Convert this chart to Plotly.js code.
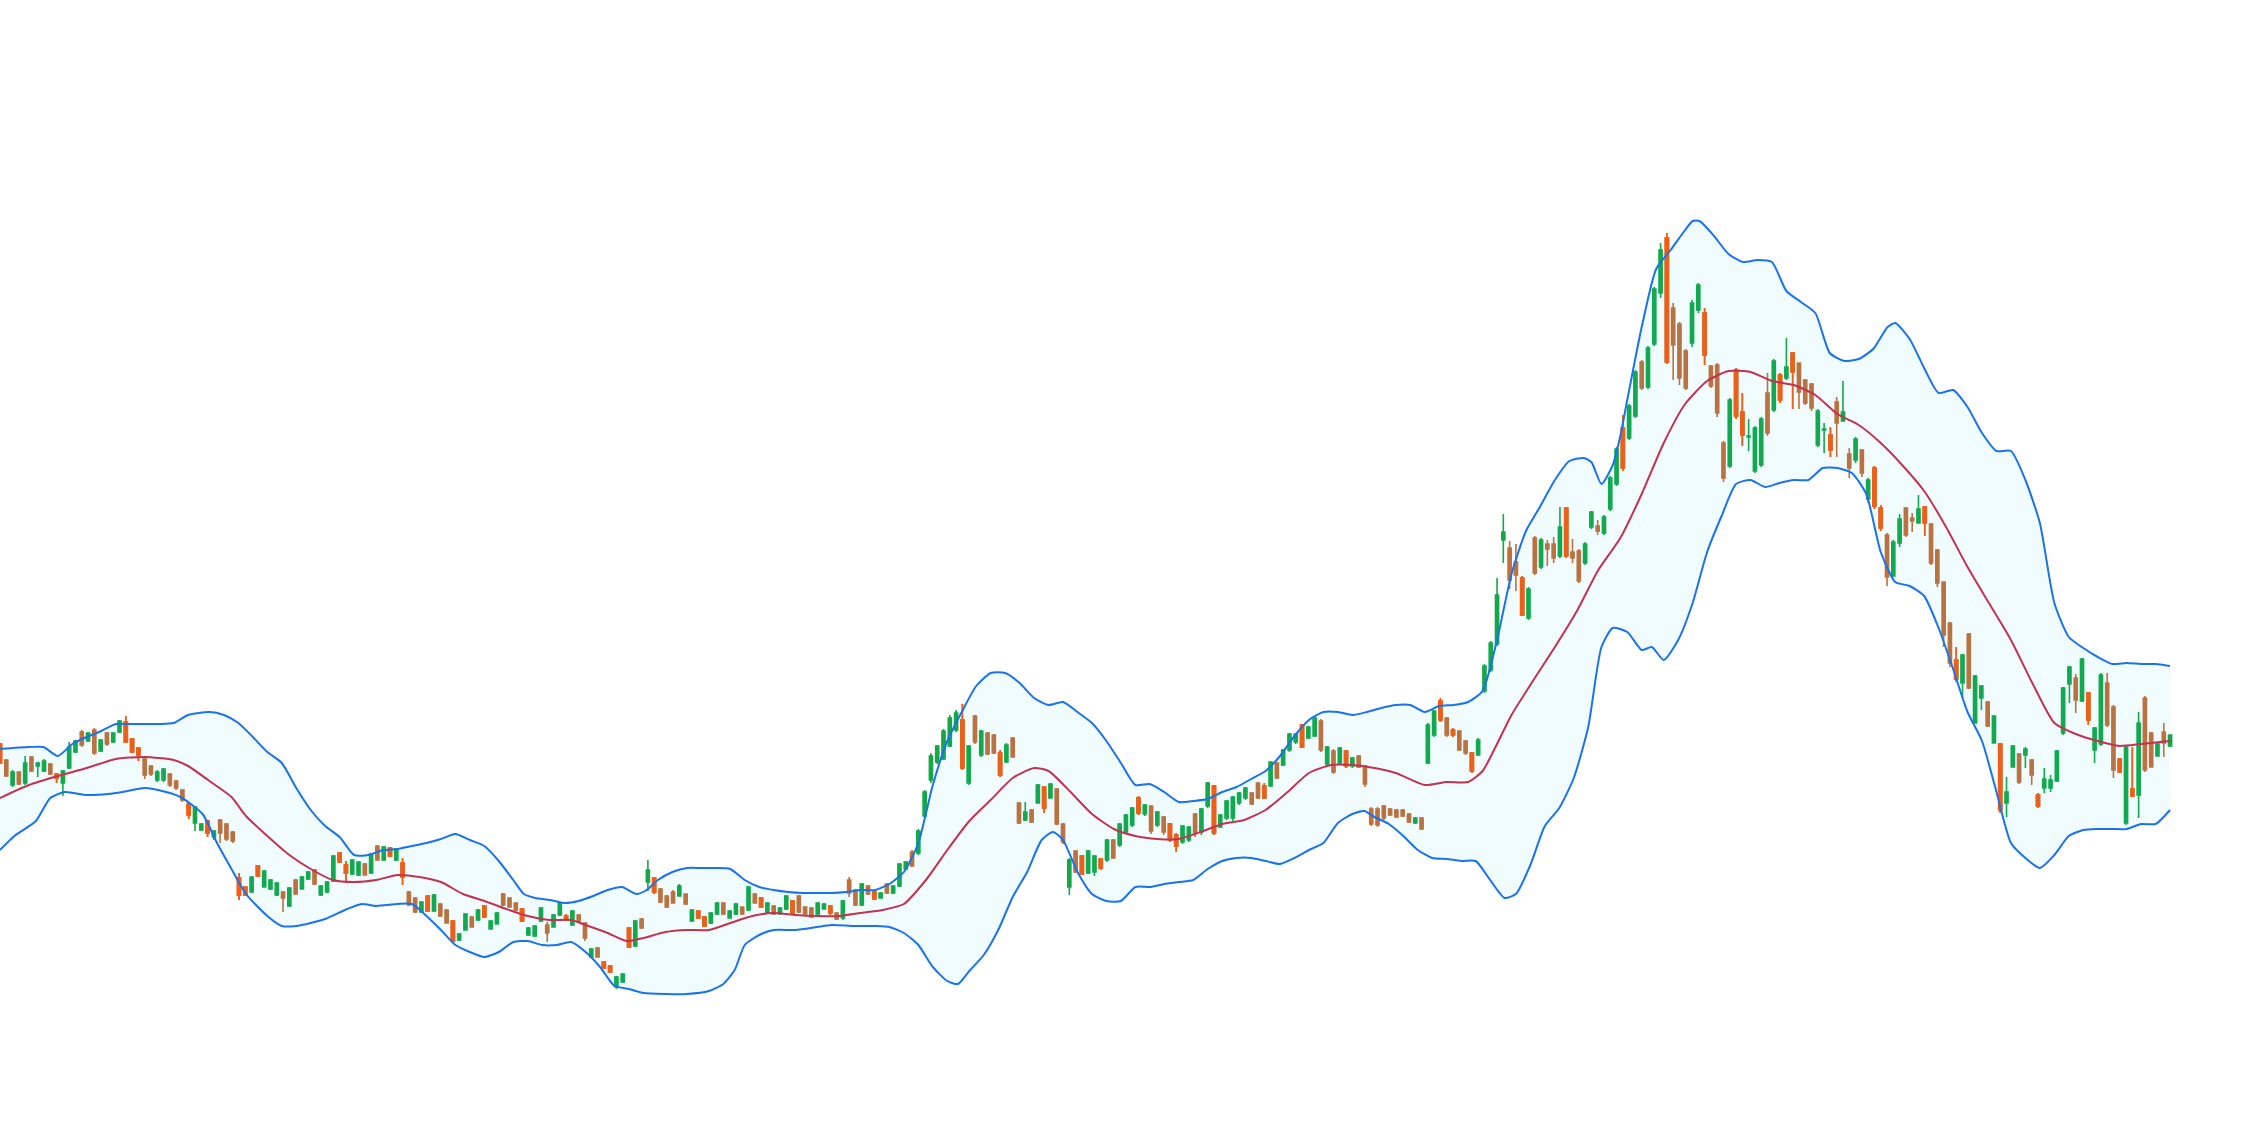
<!DOCTYPE html>
<html><head><meta charset="utf-8">
<script src="https://cdn.plot.ly/plotly-3.0.1.min.js"></script>
<style>html,body{margin:0;padding:0;background:#fff}#chart{width:2268px;height:1148px}</style>
</head><body><div id="chart"></div>
<script>
const openP = [324,308,283,296,285,311,302,297,304,294,
285,300,316,336,327,338,317,335,326,336,
346,329,320,309,302,288,288,294,287,278,
264,245,238,247,231,248,244,236,190,181,
176,202,181,179,173,176,162,188,179,189,
198,173,176,187,215,203,194,193,204,195,
222,208,220,208,205,176,170,156,172,157,
164,158,147,128,138,151,148,162,139,144,
174,170,165,159,133,132,147,143,141,153,
152,143,153,145,111,120,106,102,81,86,
140,122,149,186,190,179,172,176,172,174,
147,157,151,145,154,165,150,154,161,158,
174,170,155,162,154,159,167,172,161,160,
154,159,162,155,150,188,178,163,182,177,
170,184,175,182,199,216,215,252,288,306,
309,322,338,348,285,352,313,335,333,315,
306,330,265,248,258,265,281,270,279,244,
181,217,212,195,196,209,208,228,223,236,
243,270,254,262,243,251,244,233,226,228,
254,236,262,282,241,250,250,265,270,275,
285,282,282,305,303,318,326,343,330,332,
347,304,317,305,317,302,312,302,259,259,
262,259,258,258,254,245,250,305,333,367,
350,338,337,327,315,313,377,398,424,528,
520,506,490,450,530,501,524,524,512,560,
516,517,505,541,542,535,559,584,640,630,
652,706,681,724,775,830,760,744,717,725,
758,755,702,703,625,602,698,656,631,597,
603,675,658,693,690,715,705,688,684,623,
638,633,666,647,614,608,618,569,600,560,
533,492,525,560,550,545,561,544,518,486,
445,408,385,434,345,370,366,325,324,265,
301,314,313,308,273,280,280,287,335,384,
390,367,375,318,324,385,361,309,245,279,
273,370,335,312,336,322];
const highP = [325,309,298,296,312,312,306,309,305,295,
298,326,328,338,336,340,329,336,336,348,
352,330,321,310,303,298,300,295,288,279,
265,262,245,248,238,249,245,237,195,181,
191,203,198,189,186,177,181,189,192,197,
199,183,187,213,216,207,209,207,205,215,
223,222,221,220,210,177,171,167,173,174,
165,159,148,135,155,152,159,163,148,156,
175,171,165,160,141,143,161,146,154,166,
154,158,154,146,120,121,107,103,92,95,
141,148,150,208,191,180,173,178,184,174,
159,157,152,156,166,166,158,165,161,182,
175,171,166,163,161,173,168,173,161,161,
166,165,163,156,168,191,179,185,183,178,
176,185,183,205,207,218,239,278,315,323,
339,353,358,364,323,353,338,336,334,318,
325,331,266,266,259,284,281,285,280,245,
210,218,213,218,213,210,229,229,245,254,
261,272,264,263,257,252,245,235,243,242,
255,260,286,283,254,268,272,276,281,276,
286,285,307,306,319,335,335,344,342,351,
349,322,319,321,318,311,313,303,261,261,
263,260,259,259,255,251,251,345,358,370,
351,340,338,328,316,330,404,427,490,554,
527,524,492,481,532,530,528,531,561,561,
529,519,526,557,548,553,592,621,653,664,
698,708,722,781,825,835,765,746,719,768,
785,760,703,705,627,670,700,675,649,642,
651,695,709,695,730,715,705,689,685,659,
645,641,671,687,620,631,619,590,602,563,
535,528,554,561,555,573,561,545,519,486,
446,421,414,435,393,383,367,353,325,291,
323,315,321,309,275,300,293,318,381,402,
394,410,375,341,395,395,363,310,323,321,
356,372,336,325,345,333];
const lowP = [304,291,281,283,283,296,291,296,293,285,
272,299,315,321,326,313,316,322,325,335,
325,315,307,289,292,286,286,281,278,266,
249,237,237,231,228,225,227,225,168,172,
175,191,181,178,172,156,161,173,179,188,
183,172,175,186,205,187,193,192,193,194,
207,207,211,207,183,162,155,155,156,156,
151,145,125,127,138,141,147,151,139,144,
162,160,157,146,132,131,146,126,141,152,
147,142,146,127,111,111,100,95,79,85,
120,121,139,177,174,165,160,165,172,163,
146,150,141,144,153,153,150,153,153,157,
165,161,155,153,154,158,155,155,154,151,
153,159,153,148,148,171,162,162,173,168,
170,174,174,181,199,201,213,251,285,304,
308,321,336,298,283,324,311,313,314,291,
305,311,244,247,245,265,255,270,243,224,
173,195,193,194,192,198,206,209,221,235,
241,253,252,234,241,233,226,216,224,226,
231,233,260,233,240,248,247,263,268,263,
269,270,281,289,302,316,324,320,329,331,
316,302,294,303,300,300,300,281,242,241,
248,252,250,251,245,244,238,304,331,346,
331,331,318,313,295,312,375,396,422,505,
479,477,452,448,493,499,502,505,510,510,
505,485,503,539,533,533,557,582,597,628,
650,678,679,722,770,704,688,683,678,721,
755,703,680,651,586,600,649,622,617,595,
601,632,656,665,688,659,659,663,657,621,
615,611,611,647,590,605,591,565,559,537,
482,491,521,531,536,545,532,503,481,421,
401,386,371,379,345,358,341,325,255,251,
301,284,300,283,260,275,276,286,333,365,
355,366,343,305,322,341,290,295,243,271,
250,296,301,312,311,321];
const closeP = [305,292,296,284,305,297,305,307,294,290,
297,321,327,323,335,315,328,324,335,347,
326,316,313,293,294,296,299,283,280,268,
253,261,244,235,237,235,229,227,173,173,
191,192,197,188,185,170,180,174,191,196,
184,182,186,212,206,195,208,206,193,214,
208,221,212,219,191,163,156,166,157,173,
152,145,127,134,154,141,158,151,147,155,
163,161,158,147,140,142,160,135,153,165,
148,157,147,130,119,111,100,96,91,94,
121,147,140,198,176,166,161,165,182,164,
158,150,142,155,165,154,157,164,154,181,
165,161,165,154,160,172,155,156,154,151,
165,164,155,149,167,175,163,184,174,169,
175,175,182,204,206,202,237,276,312,322,
337,350,355,300,322,326,337,314,315,293,
323,311,245,256,246,283,260,284,244,226,
208,196,194,217,212,200,228,210,244,253,
260,255,263,237,256,236,228,222,242,241,
235,259,285,235,253,267,271,275,280,264,
270,270,306,290,318,334,334,321,341,350,
318,321,296,320,302,310,301,284,244,243,
250,253,251,252,246,250,239,343,357,348,
333,333,318,315,297,328,402,425,473,536,
488,493,453,479,495,528,519,510,541,512,
510,487,524,556,537,551,590,619,600,662,
696,680,720,779,818,706,723,690,680,765,
783,713,682,655,590,668,652,633,632,640,
649,635,707,668,701,696,676,665,660,657,
639,618,645,656,600,629,595,588,562,540,
491,526,549,533,547,559,545,505,485,433,
405,389,413,380,392,382,342,352,258,276,
322,286,319,293,262,289,288,317,380,401,
368,409,348,340,393,343,298,296,321,272,
345,298,301,324,325,333];
const brightDown = [0,9,20,21,22,30,33,38,39,41,54,55,62,64,68,72,77,83,90,96,97,100,104,111,112,121,126,132,139,153,159,166,172,175,181,186,187,193,201,207,214,229,231,234,242,249,258,265,271,276,277,283,285,291,298,299,306,311,318,324,332,337,339];

const upperX = [0,4.6,6.9,9.2,11.5,13.8,16.1,18.4,20.7,23,25.3,27.6,29.9,33.3,35.6,37.9,40.2,42.5,44.8,47.1,49.4,51.7,54,56.3,58.6,60.9,63.2,65.5,67.8,70.1,72.4,74.7,77,79.3,81.6,83.3,85.1,87.4,89.7,92,94.3,96.6,98.9,101.2,102.8,104.6,106.9,109.2,111.5,113.8,116.1,118.4,120.7,123,125.3,127.6,129.9,132.2,134.5,136.8,139.1,141.4,143.7,146,148.3,150.6,152.9,155.2,157.5,159.8,162.1,164.4,166.7,169,171.3,173.6,175.9,178.2,180.5,182.8,185.1,187.4,189.7,192,194.3,196.6,198.9,201.2,203.5,205.8,208.1,210.4,212.7,215,217.3,219.6,221.9,224.2,226.5,228.8,231.1,233.4,235.7,238,240.3,242.6,244.9,247.2,249.5,251.8,253,254.6,256.4,257.6,258.7,261,263.3,265.6,267.9,269.1,270.2,272.5,274.8,277.1,279.4,281.7,284,286.3,288.6,290.9,293.2,295.5,297.8,300.1,301.3,303.6,305.9,308.2,310.5,312.8,315.1,317.4,319.7,322,324.3,326.6,328.9,331.2,333.5,335.8,338.1,340.4,342.7,345];
const upperY = [319,321,321,312,324,331,337,344,344,344,344,345,353,356,353,345,331,316,305,280,258,242,231,213,213,218,219,222,225,229,234,228,222,207,188,174,170,168,165,167,172,178,181,174,178,188,196,200,200,200,199,188,181,178,176,175,175,175,176,178,178,184,196,225,283,327,356,382,395,395,385,370,363,366,356,345,327,305,283,284,276,266,267,269,276,281,289,297,312,332,348,356,356,353,356,360,363,363,356,362,363,366,377,428,494,537,562,588,607,610,606,584,603,632,668,741,799,818,838,847,847,832,814,806,808,806,777,766,755,715,707,709,719,741,745,729,700,675,678,661,635,617,617,588,545,465,431,420,411,404,405,404,404,402];

const midX = [0,4.6,9.2,13.8,18.4,23,27.6,29.9,33.3,36.8,39.1,42.5,46,49.4,52.9,56.3,59.8,63.2,66.7,70.1,73.6,77,80.5,83.9,87.4,90.8,93.1,96.6,99.6,102.3,105.8,109.2,112.7,116.1,119.6,123,126.5,129.9,133.4,136.8,140.3,143.7,147.2,150.6,154.1,157.5,161,164.4,166.7,170.2,173.6,177.1,180.5,184,187.4,190.9,194.3,197.8,201.2,204.7,208.1,211.6,215,218.5,221.9,226.5,230,233.4,235.7,238,240.3,243.8,247.2,250.7,254.1,257.6,261,264.5,267.9,271.4,274.8,278.3,281.7,285.2,288.6,292.1,295.5,299,302.4,305.9,309.3,312.8,316.2,319.7,323.1,326.6,330,333.5,336.9,340.4,345];
const midY = [270,283,292,300,309,311,308,302,287,271,252,232,213,199,188,186,188,193,191,186,174,167,159,152,148,148,143,135,127,130,136,138,138,145,152,155,153,152,152,155,158,164,188,218,247,268,290,300,297,276,254,239,232,229,229,236,244,248,258,276,295,303,303,300,295,283,286,286,297,324,353,388,421,457,498,530,574,625,664,687,697,696,687,683,673,654,643,625,603,577,542,501,465,428,385,345,334,327,322,324,327];

const lowerX = [0,2.3,5.7,8,10.3,13.8,17.2,19.5,23,26.4,28.7,32.2,34.5,36.8,39.1,42.5,44.8,47.1,49.4,51.7,55.2,57.5,59.8,63.2,65.5,67.8,70.1,72.4,74.7,77,79.3,81.6,83.9,86.2,88.5,90.8,93.1,95.4,97.7,100,102.3,105.8,109.2,112.7,115,116.8,118.4,120.7,123,126.5,129.9,132.2,135.7,139.1,141.4,143.7,146,148.3,150.6,152.3,154.1,156.4,158.7,161,163.3,165.6,167.4,169,171.3,173.6,175.9,178.2,180.5,182.8,185.1,187.4,189.7,192,194.3,196.6,198.9,201.2,203.5,205.8,208.1,210.4,212.7,215,216.9,218.5,220.8,223.1,225.4,227.7,230,232.3,234.6,236.9,239.2,241,243.3,245.6,247.9,250.2,252.5,254.6,256.4,258.7,261,262.6,264.5,266.8,269.1,271.4,273.7,276,278.3,280.6,282.9,285.2,287.5,289.8,292.1,294.4,296.7,299,301.3,303.6,305.9,308.2,310.5,312.8,315.1,317.4,319.7,322,324.3,326.6,328.9,331.2,333.5,335.8,338.1,340.4,342.7,345];
const lowerY = [218,232,247,270,276,273,274,276,280,276,271,254,225,199,174,152,142,142,145,149,159,164,162,164,164,152,138,123,116,111,116,126,127,123,123,126,116,101,82,79,75,74,74,77,84,98,123,133,138,138,141,143,142,142,141,135,123,101,87,84,97,113,138,171,196,228,236,228,196,174,167,167,181,181,184,186,188,199,207,210,210,207,204,210,218,225,245,254,257,251,244,232,218,210,209,207,207,188,170,174,203,242,260,290,341,421,440,436,418,421,408,428,465,516,552,584,588,581,585,588,588,600,600,595,574,516,486,482,472,440,399,356,327,276,225,210,200,213,232,238,239,239,239,244,244,258];

const idx = openP.map((_, i) => i);
const pick = (arr, ids) => ids.map(i => arr[i]);
const cut = (xs, ys) => { const n = Math.min(xs.length, ys.length); return [xs.slice(0, n), ys.slice(0, n)]; };
const [uX, uY] = cut(upperX, upperY);
const [mX, mY] = cut(midX, midY);
const [lX, lY] = cut(lowerX, lowerY);

const BAND = '#1a73eb', MID = '#c3324f', UP = '#14a846', DOWN = '#c46e36', DOWN2 = '#fb5a0c';
const CW = 1.6;
const data = [
  {type:'scatter', mode:'lines', x:lX, y:lY, line:{color:BAND, width:2, shape:'spline', smoothing:0.6}, hoverinfo:'skip'},
  {type:'scatter', mode:'lines', x:uX, y:uY, fill:'tonexty', fillcolor:'rgba(0,200,255,0.055)', line:{color:BAND, width:2, shape:'spline', smoothing:0.6}, hoverinfo:'skip'},
  {type:'scatter', mode:'lines', x:mX, y:mY, line:{color:MID, width:2, shape:'spline', smoothing:0.6}, hoverinfo:'skip'},
  {type:'candlestick', x:idx, open:openP, high:highP, low:lowP, close:closeP,
   increasing:{line:{color:UP, width:CW}, fillcolor:UP},
   decreasing:{line:{color:DOWN, width:CW}, fillcolor:DOWN}},
  {type:'candlestick', x:brightDown, open:pick(openP,brightDown), high:pick(highP,brightDown), low:pick(lowP,brightDown), close:pick(closeP,brightDown),
   increasing:{line:{color:DOWN2, width:CW}, fillcolor:DOWN2},
   decreasing:{line:{color:DOWN2, width:CW}, fillcolor:DOWN2}}
];
const layout = {
  width:2268, height:1148, showlegend:false,
  margin:{l:0, r:80, t:100, b:80},
  paper_bgcolor:'#ffffff', plot_bgcolor:'#ffffff',
  xaxis:{range:[0, 347.85], visible:false, showgrid:false, zeroline:false, rangeslider:{visible:false}},
  yaxis:{range:[0, 968], visible:false, showgrid:false, zeroline:false}
};
Plotly.newPlot('chart', data, layout, {displayModeBar:false, staticPlot:true});
</script>
</body></html>
